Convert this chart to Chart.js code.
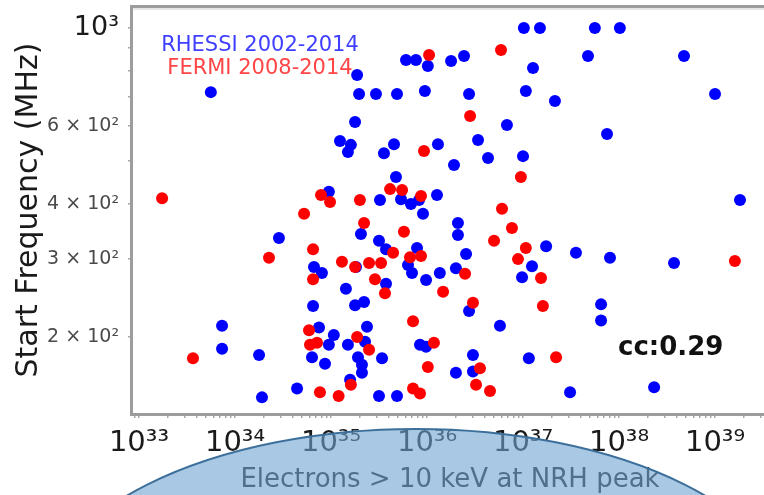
<!DOCTYPE html>
<html>
<head>
<meta charset="utf-8">
<script src="https://cdn.jsdelivr.net/npm/chart.js@4.4.1/dist/chart.umd.min.js"></script>
<style>
  html, body { margin: 0; padding: 0; background: #fff; overflow: hidden; }
  #caixa { position: relative; width: 830px; height: 495px; }
</style>
</head>
<body>
<div id="caixa"><canvas id="grafico" width="830" height="495"></canvas></div>
<script>
// RHESSI 2002-2014: electrons > 10 keV at NRH peak vs start frequency (MHz)
const rhessiElectrons = [
  5.6e33, 1.87e35, 1.96e35, 2.94e35, 4.87e35, 9.5e35, 2.74e36, 1.07e37, 6.04e35, 7.67e35,
  1.02e36, 1.78e36, 2.43e36, 1.02e37, 1.5e37, 5.6e37, 1.02e38, 1.27e37, 4.75e37, 4.75e38,
  2.15e37, 1.0e39, 7.5e37, 1.82e39, 1.78e35, 6.8e36, 1.24e35, 1.61e35, 1.5e35, 4.53e35,
  3.56e35, 1.3e36, 3.4e36, 4.32e36, 1.0e37, 1.91e36, 4.75e35, 9.5e34, 5.36e35, 6.8e35,
  8.26e35, 1.27e36, 3.24e35, 2.87e34, 6.65e34, 8.05e34, 1.43e35, 6.5e34, 7.33e33, 7.33e33,
  1.78e34, 7.5e34, 1.07e35, 9.5e34, 6.34e34, 8.66e34, 4.43e34, 1.91e34, 9.08e35, 2.05e35,
  2.1e36, 2.1e36, 1.74e37, 3.16e35, 3.74e35, 7.87e35, 2.55e36, 1.24e37, 9.77e36, 1.82e35,
  6.34e35, 6.98e35, 9.77e35, 1.36e36, 2.0e36, 3.74e35, 1.78e35, 2.21e35, 2.74e36, 5.75e36,
  2.37e35, 1.5e35, 2.26e35, 1.91e35, 2.1e35, 2.1e35, 1.58e35, 3.4e35, 8.45e35, 9.77e35,
  3.01e36, 2.0e36, 3.01e36, 1.15e37, 3.16e35, 4.87e35, 3.56e37, 8.05e37, 3.74e38, 6.5e37,
  6.5e37, 3.09e37, 2.32e38
];
const rhessiFreq = [
  716, 783, 709, 709, 709, 720, 709, 720, 846, 846,
  820, 842, 864, 1000, 1000, 1000, 1000, 812, 864, 864,
  684, 709, 576, 408, 613, 603, 555, 544, 524, 546,
  521, 546, 558, 508, 513, 490, 460, 426, 410, 400,
  408, 419, 408, 335, 288, 279, 257, 235, 212, 188,
  182, 210, 202, 192, 180, 174, 153, 146, 380, 342,
  362, 340, 321, 330, 316, 318, 308, 289, 273, 288,
  291, 279, 269, 279, 286, 264, 236, 240, 229, 212,
  211, 192, 195, 180, 173, 166, 160, 179, 192, 190,
  182, 166, 167, 179, 147, 147, 310, 302, 294, 237,
  218, 150, 154
];

// FERMI 2008-2014
const fermiElectrons = [
  1.74e33, 7.87e34, 9.77e34, 5.24e34, 1.05e36, 5.9e36, 2.81e36, 9.3e35, 9.5e36, 4.12e35,
  5.5e35, 8.66e35, 2.0e35, 6.04e36, 6.5e34, 2.26e34, 1.3e35, 6.5e34, 3.65e33, 5.9e34,
  6.04e34, 7.15e34, 7.67e34, 1.2e35, 2.21e35, 5.75e35, 7.67e36, 4.99e36, 1.07e37, 4.43e35,
  6.65e35, 8.66e35, 8.87e36, 1.54e37, 1.78e35, 2.49e35, 3.32e35, 2.49e36, 2.87e35, 3.65e35,
  1.47e36, 3.01e36, 1.61e37, 7.15e35, 1.87e35, 2.49e35, 1.61e35, 1.18e36, 1.02e36, 3.56e36,
  3.24e36, 4.53e36, 7.15e35, 8.45e35, 1.61e39, 2.21e37
];
const fermiFreq = [
  412, 419, 404, 380, 869, 892, 632, 527, 460, 432,
  430, 417, 408, 390, 316, 302, 296, 270, 179, 207,
  192, 194, 150, 147, 362, 346, 353, 330, 318, 310,
  303, 305, 300, 272, 288, 294, 294, 278, 270, 251,
  253, 239, 235, 217, 200, 187, 156, 194, 171, 170,
  156, 151, 153, 149, 297, 180
];

// eixo x: decadas com rotulo
const xMajor = [1e33, 1e34, 1e35, 1e36, 1e37, 1e38, 1e39];
const xMajorLabels = ["10³³", "10³⁴", "10³⁵", "10³⁶", "10³⁷", "10³⁸", "10³⁹"];
// eixo y: marcas e rotulos (vazio = sem rotulo)
const yTicks = [200, 300, 400, 500, 600, 700, 800, 900, 1000];
const yTickLabels = ["2 × 10²", "3 × 10²", "4 × 10²", "", "6 × 10²", "", "", "", "10³"];

const ccTexto = "cc:0.29";

const xMin = Math.pow(10, 32.9375);
const xMax = Math.pow(10, 39.885);

function pontos(xs, ys) {
  return xs.map((x, i) => ({ x: x, y: ys[i] }));
}

// marcas menores 2..9 em cada decada, so dentro do intervalo
function marcasX() {
  const marcas = [];
  for (let e = 32; e <= 39; e++) {
    for (let m = 1; m <= 9; m++) {
      const v = m * Math.pow(10, e);
      if (v >= xMin && v <= xMax) marcas.push({ value: v, major: m === 1 });
    }
  }
  return marcas;
}

const fonte = "DejaVu Sans";
const corBorda = "#9c9c9c";

const enfeites = {
  id: "enfeites",
  afterDraw(chart) {
    const ctx = chart.ctx;
    const area = chart.chartArea;
    ctx.save();
    // bordas: esquerda, baixo e cima
    ctx.fillStyle = corBorda;
    ctx.fillRect(area.left - 3, area.top - 2, 3, area.bottom - area.top + 4);
    ctx.fillRect(area.left - 3, area.bottom, chart.width, 3);
    ctx.fillRect(area.left - 3, area.top - 2, chart.width, 3);
    ctx.fillStyle = "#e6e6e6";
    ctx.fillRect(area.left, area.top + 1, chart.width, 2);

    // legenda sem simbolos
    ctx.textAlign = "center";
    ctx.textBaseline = "middle";
    ctx.font = "21px " + fonte;
    ctx.fillStyle = "#3f3fff";
    ctx.fillText(chart.data.datasets[0].label, 260, 46);
    ctx.fillStyle = "#ff4545";
    ctx.fillText(chart.data.datasets[1].label, 260, 69);

    // coeficiente de correlacao
    ctx.textAlign = "left";
    ctx.textBaseline = "alphabetic";
    ctx.font = "bold 26px " + fonte;
    ctx.fillStyle = "#111";
    ctx.fillText(ccTexto, 618, 355);

    // titulo do eixo x
    ctx.textAlign = "center";
    ctx.font = "26px " + fonte;
    ctx.fillStyle = "#222";
    ctx.fillText("Electrons > 10 keV at NRH peak", 450, 487);

    // elipse azul por cima
    ctx.beginPath();
    ctx.ellipse(416, 619, 380, 190, 0, 0, Math.PI * 2);
    ctx.fillStyle = "rgba(110,163,210,0.6)";
    ctx.fill();
    ctx.strokeStyle = "#3d6f9b";
    ctx.lineWidth = 2;
    ctx.stroke();
    ctx.restore();
  }
};

new Chart(document.getElementById("grafico"), {
  type: "scatter",
  data: {
    datasets: [
      {
        label: "RHESSI 2002-2014",
        data: pontos(rhessiElectrons, rhessiFreq),
        backgroundColor: "#0000ff",
        pointRadius: 6,
        borderWidth: 0,
        order: 1
      },
      {
        label: "FERMI 2008-2014",
        data: pontos(fermiElectrons, fermiFreq),
        backgroundColor: "#ff0000",
        pointRadius: 6,
        borderWidth: 0,
        order: 0
      }
    ]
  },
  options: {
    responsive: false,
    animation: false,
    layout: { padding: { top: 7, right: 30, left: 0, bottom: 0 } },
    plugins: { legend: { display: false }, tooltip: { enabled: false } },
    scales: {
      x: {
        type: "logarithmic",
        min: xMin,
        max: xMax,
        afterBuildTicks: (scale) => { scale.ticks = marcasX(); },
        afterFit: (scale) => {
          scale.height = 82;
          scale.paddingLeft = 0;
          scale.paddingRight = 0;
        },
        border: { display: false },
        grid: { display: true, drawOnChartArea: false, drawTicks: true, tickLength: 5, lineWidth: 1.5, color: "#a8a8a8" },
        ticks: {
          autoSkip: false,
          maxRotation: 0,
          padding: 8,
          color: "#1a1a1a",
          font: { family: fonte, size: 29 },
          callback: (v) => {
            const i = xMajor.indexOf(v);
            return i >= 0 ? xMajorLabels[i] : "";
          }
        }
      },
      y: {
        type: "logarithmic",
        min: Math.pow(10, 2.129),
        max: Math.pow(10, 3.0475),
        afterBuildTicks: (scale) => { scale.ticks = yTicks.map((v) => ({ value: v, major: v === 1000 })); },
        afterFit: (scale) => {
          scale.width = 133;
          scale.paddingTop = 0;
          scale.paddingBottom = 0;
        },
        border: { display: false },
        grid: { display: true, drawOnChartArea: false, drawTicks: true, tickLength: 5, lineWidth: 1.5, color: "#a8a8a8" },
        title: {
          display: true,
          text: "Start Frequency (MHz)",
          color: "#1a1a1a",
          font: { family: fonte, size: 30 },
          padding: { top: 11, bottom: 0 }
        },
        ticks: {
          autoSkip: false,
          padding: 9,
          color: (c) => (c.tick && c.tick.value === 1000 ? "#1a1a1a" : "#4a4a4a"),
          font: (c) => ({ family: fonte, size: c.tick && c.tick.value === 1000 ? 27 : 19 }),
          callback: (v) => {
            const i = yTicks.indexOf(v);
            return i >= 0 ? yTickLabels[i] : "";
          }
        }
      }
    }
  },
  plugins: [enfeites]
});
</script>
</body>
</html>
